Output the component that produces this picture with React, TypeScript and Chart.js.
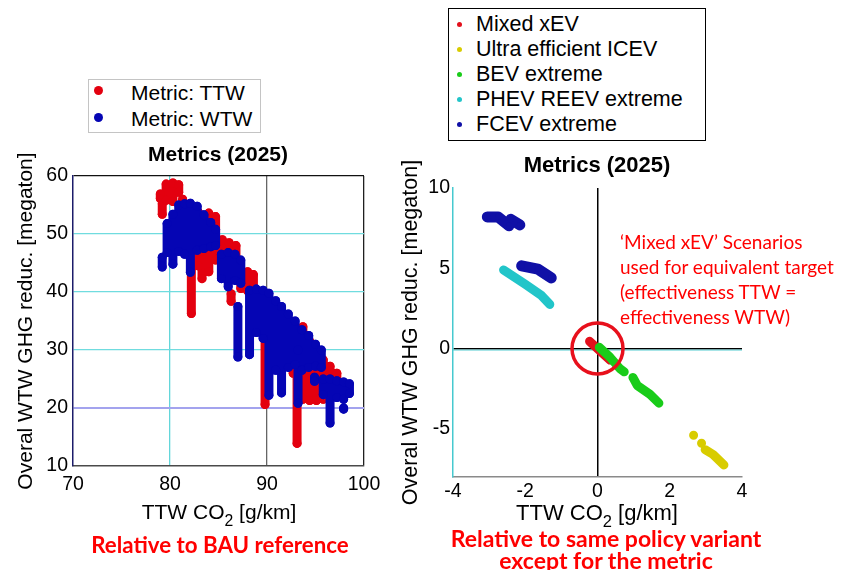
import React, { useEffect, useRef } from "react";
import { Chart, registerables } from "chart.js";
Chart.register(...registerables);

// ---------- Left panel: Metrics (2025), relative to BAU ----------
// Each column is one scenario family: TTW CO2 value and span of WTW reduction
const ttwColX = [79.0, 79.2, 79.6, 80.3, 80.9, 81.3, 82.2, 82.9, 83.3, 84.0, 84.7, 85.4, 86.1, 86.8, 86.3, 87.3, 88.0, 88.6, 89.3, 89.8, 90.5, 91.3, 92.0, 92.7, 93.1, 93.7, 94.4, 95.1, 95.8, 96.5, 97.2];
const ttwColHigh = [56.9, 55.2, 58.6, 58.8, 58.5, 56.0, 53.8, 53.8, 47.0, 53.6, 53.0, 49.0, 48.5, 48.0, 39.7, 43.5, 43.5, 43.0, 38.5, 37.5, 38.0, 36.5, 35.5, 34.5, 33.0, 34.0, 31.5, 29.0, 28.3, 27.2, 26.0];
const ttwColLow = [56.1, 53.4, 55.8, 55.6, 57.2, 53.0, 36.3, 44.5, 42.3, 43.5, 45.5, 46.2, 46.3, 45.5, 38.4, 40.6, 40.2, 39.5, 36.5, 20.6, 28.5, 29.5, 28.5, 26.0, 13.9, 21.5, 21.3, 21.3, 21.5, 22.3, 23.8];

const wtwColX = [79.2, 79.7, 80.3, 80.9, 81.5, 82.1, 82.8, 83.5, 84.2, 84.7, 85.3, 86.0, 86.7, 87.3, 87.0, 88.2, 88.9, 89.6, 90.2, 90.9, 91.5, 92.2, 92.9, 93.2, 93.6, 94.3, 95.0, 95.6, 94.9, 95.8, 96.5, 97.2, 97.9, 98.5, 97.9];
const wtwColHigh = [46.0, 51.8, 53.4, 55.0, 55.2, 55.3, 54.8, 53.3, 52.0, 50.8, 46.5, 46.8, 46.5, 45.5, 37.5, 40.3, 40.5, 40.3, 39.8, 38.5, 37.5, 36.2, 35.0, 30.0, 33.5, 32.5, 31.0, 30.0, 25.3, 25.0, 25.0, 24.7, 24.5, 24.2, 20.0];
const wtwColLow = [44.3, 46.8, 44.8, 47.0, 46.5, 43.4, 47.2, 47.5, 47.8, 48.0, 42.3, 40.9, 42.0, 41.5, 28.8, 29.2, 33.0, 32.0, 22.2, 26.5, 22.6, 27.0, 27.5, 20.8, 26.5, 27.0, 27.2, 27.0, 24.6, 22.3, 17.4, 21.8, 21.5, 22.5, 19.8];

const leftXTicks = [70, 80, 90, 100];
const leftYTicks = [10, 20, 30, 40, 50, 60];

// ---------- Right panel: relative to same policy variant ----------
const mixedX = [-0.22, 0.35];
const mixedY = [0.45, -0.72];
const iceX = [2.66, null, 2.88, null, 2.98, 3.2, 3.5];
const iceY = [-5.4, null, -5.9, null, -6.3, -6.6, -7.25];
const bevX = [0.05, 0.35, 0.62, 0.74, null, 0.98, 1.1, 1.45, 1.7];
const bevY = [0.08, -0.55, -1.25, -1.45, null, -1.8, -2.3, -2.85, -3.4];
const phevX = [-2.6, -2.0, -1.55, -1.32];
const phevY = [4.9, 4.0, 3.3, 2.75];
const fcevX = [-3.05, -2.75, -2.45, null, -2.4, -2.15, null, -2.1, -1.65, -1.28];
const fcevY = [8.2, 8.2, 7.65, null, 8.05, 7.7, null, 5.15, 4.95, 4.4];

const rightXTicks = [-4, -2, 0, 2, 4];
const rightYTicks = [-5, 0, 5, 10];
const circleCenter = [0, 0];

const FONT = "'Liberation Sans', Arial, Helvetica, sans-serif";
const CAL = "Lato, 'Open Sans', sans-serif";

type Pt = { x: number | null; y: number | null };

function columnsToData(xs: number[], hi: number[], lo: number[]): Pt[] {
  const out: Pt[] = [];
  xs.forEach((x, i) => {
    out.push({ x, y: hi[i] }, { x, y: lo[i] }, { x: null, y: null });
  });
  return out;
}
function polyToData(xs: (number | null)[], ys: (number | null)[]): Pt[] {
  return xs.map((x, i) => ({ x, y: ys[i] }));
}

function ds(label: string, data: Pt[], color: string, order: number, bw: number, pr: number) {
  return {
    label,
    data,
    showLine: true,
    spanGaps: false,
    borderColor: color,
    backgroundColor: color,
    pointBackgroundColor: color,
    pointBorderWidth: 0,
    pointRadius: pr,
    pointHoverRadius: pr,
    borderWidth: bw,
    borderCapStyle: "round",
    borderJoinStyle: "round",
    tension: 0,
    order,
  };
}

function LeftChart() {
  const ref = useRef<HTMLCanvasElement>(null);
  useEffect(() => {
    if (!ref.current) return;
    const tickFont = { family: FONT, size: 19.5 };
    const chart = new Chart(ref.current, {
      type: "scatter",
      data: {
        datasets: [
          ds("Metric: TTW", columnsToData(ttwColX, ttwColHigh, ttwColLow), "#e3000f", 2, 9, 4.5),
          ds("Metric: WTW", columnsToData(wtwColX, wtwColHigh, wtwColLow), "#0505b4", 1, 9, 4.5),
        ],
      } as any,
      options: {
        animation: false,
        responsive: false,
        events: [],
        layout: { padding: { left: 0, top: 36, right: 36, bottom: 0 } },
        plugins: { legend: { display: false }, tooltip: { enabled: false }, title: { display: false } },
        scales: {
          x: {
            type: "linear",
            min: 70,
            max: 100,
            afterBuildTicks: (s: any) => {
              s.ticks = leftXTicks.map((v) => ({ value: v }));
            },
            ticks: { font: tickFont, color: "#000", padding: 7, maxRotation: 0, callback: (v: any) => String(v) },
            grid: {
              drawTicks: false,
              color: (c: any) => {
                const v = c.tick && c.tick.value;
                if (v === 80) return "#63d6da";
                if (v === 90) return "#666666";
                if (v === 100) return "#202020";
                return "rgba(0,0,0,0)";
              },
              lineWidth: 1.3,
            },
            border: { display: true, color: "#4a4a4a", width: 1.5 },
            afterFit: (s: any) => {
              s.height = 74;
            },
          },
          y: {
            type: "linear",
            min: 10,
            max: 60,
            afterBuildTicks: (s: any) => {
              s.ticks = leftYTicks.map((v) => ({ value: v }));
            },
            ticks: { font: tickFont, color: "#000", padding: 5, callback: (v: any) => String(v) },
            grid: {
              drawTicks: false,
              color: (c: any) => {
                const v = c.tick && c.tick.value;
                if (v === 20) return "#a3a3ee";
                if (v === 30 || v === 40 || v === 50) return "#70dcdf";
                if (v === 60) return "#111111";
                return "rgba(0,0,0,0)";
              },
              lineWidth: (c: any) => (c.tick && c.tick.value === 20 ? 2 : 1.3),
            },
            border: { display: true, color: "#1c1c6a", width: 1.5 },
            title: {
              display: true,
              text: "Overal WTW GHG reduc. [megaton]",
              font: { family: FONT, size: 21 },
              color: "#000",
              padding: { top: 14, bottom: 0 },
            },
            afterFit: (s: any) => {
              s.width = 73;
            },
          },
        },
      } as any,
    });
    return () => chart.destroy();
  }, []);
  return (
    <canvas
      ref={ref}
      width={400}
      height={400}
      style={{ position: "absolute", left: 0, top: 140, width: 400, height: 400 }}
    />
  );
}

const circlePlugin = {
  id: "mixedCircle",
  beforeDatasetsDraw(chart: any) {
    const { ctx, scales, chartArea } = chart;
    const y0 = scales.y.getPixelForValue(0);
    ctx.save();
    ctx.strokeStyle = "#5fd0d4";
    ctx.lineWidth = 1;
    ctx.beginPath();
    ctx.moveTo(chartArea.left, y0 + 1.5);
    ctx.lineTo(chartArea.right, y0 + 1.5);
    ctx.stroke();
    ctx.restore();
  },
  afterDatasetsDraw(chart: any) {
    const { ctx, scales } = chart;
    const cx = scales.x.getPixelForValue(circleCenter[0]);
    const cy = scales.y.getPixelForValue(circleCenter[1]);
    ctx.save();
    ctx.strokeStyle = "#e8101c";
    ctx.lineWidth = 3.5;
    ctx.beginPath();
    ctx.arc(cx, cy, 25.5, 0, Math.PI * 2);
    ctx.stroke();
    ctx.restore();
  },
};

function RightChart() {
  const ref = useRef<HTMLCanvasElement>(null);
  useEffect(() => {
    if (!ref.current) return;
    const tickFont = { family: FONT, size: 19.5 };
    const chart = new Chart(ref.current, {
      type: "scatter",
      data: {
        datasets: [
          ds("Mixed xEV", polyToData(mixedX, mixedY), "#e3101c", 5, 9, 3),
          ds("Ultra efficient ICEV", polyToData(iceX, iceY), "#d8cc00", 4, 9, 3),
          ds("BEV extreme", polyToData(bevX, bevY), "#19cc19", 3, 9, 3),
          ds("PHEV REEV extreme", polyToData(phevX, phevY), "#22c5c9", 2, 9, 3),
          ds("FCEV extreme", polyToData(fcevX, fcevY), "#1010a6", 1, 11, 3),
        ],
      } as any,
      options: {
        animation: false,
        responsive: false,
        events: [],
        layout: { padding: { left: 0, top: 48, right: 99, bottom: 0 } },
        plugins: { legend: { display: false }, tooltip: { enabled: false }, title: { display: false } },
        scales: {
          x: {
            type: "linear",
            min: -4,
            max: 4,
            afterBuildTicks: (s: any) => {
              s.ticks = rightXTicks.map((v) => ({ value: v }));
            },
            ticks: { font: tickFont, color: "#000", padding: 3, maxRotation: 0, callback: (v: any) => String(v) },
            grid: {
              drawTicks: false,
              color: (c: any) => (c.tick && c.tick.value === 0 ? "#000000" : "rgba(0,0,0,0)"),
              lineWidth: 1.5,
            },
            border: { display: true, color: "#8a8a8a", width: 1.5 },
            afterFit: (s: any) => {
              s.height = 63;
            },
          },
          y: {
            type: "linear",
            min: -8,
            max: 10,
            afterBuildTicks: (s: any) => {
              s.ticks = rightYTicks.map((v) => ({ value: v }));
            },
            ticks: { font: tickFont, color: "#000", padding: 3, callback: (v: any) => String(v) },
            grid: {
              drawTicks: false,
              color: (c: any) => (c.tick && c.tick.value === 0 ? "#000000" : "rgba(0,0,0,0)"),
              lineWidth: 1.5,
            },
            border: { display: true, color: "#46c9cf", width: 1.5 },
            title: {
              display: true,
              text: "Overal WTW GHG reduc. [megaton]",
              font: { family: FONT, size: 21.5 },
              color: "#000",
              padding: { top: 3, bottom: 0 },
            },
            afterFit: (s: any) => {
              s.width = 58;
            },
          },
        },
      } as any,
      plugins: [circlePlugin],
    });
    return () => chart.destroy();
  }, []);
  return (
    <canvas
      ref={ref}
      width={446}
      height={400}
      style={{ position: "absolute", left: 395, top: 140, width: 446, height: 400 }}
    />
  );
}

function Txt(props: {
  x: number;
  y: number;
  center?: boolean;
  size: number;
  family?: string;
  bold?: boolean;
  color?: string;
  children: React.ReactNode;
}) {
  const { x, y, center, size, family, bold, color, children } = props;
  return (
    <div
      style={{
        position: "absolute",
        left: x,
        top: y,
        transform: center ? "translate(-50%, -50%)" : "translate(0, -50%)",
        fontFamily: family || FONT,
        fontSize: size,
        fontWeight: bold ? 700 : 400,
        color: color || "#000",
        lineHeight: 1,
        whiteSpace: "nowrap",
      }}
    >
      {children}
    </div>
  );
}

function Dot(props: { x: number; y: number; r: number; color: string }) {
  const { x, y, r, color } = props;
  return (
    <div
      style={{
        position: "absolute",
        left: x - r,
        top: y - r,
        width: 2 * r,
        height: 2 * r,
        borderRadius: "50%",
        background: color,
      }}
    />
  );
}

const rightLegend = [
  { label: "Mixed xEV", color: "#e3101c" },
  { label: "Ultra efficient ICEV", color: "#d8cc00" },
  { label: "BEV extreme", color: "#19cc19" },
  { label: "PHEV REEV extreme", color: "#22c5c9" },
  { label: "FCEV extreme", color: "#1010a6" },
];

const annotationLines = [
  "\u2018Mixed xEV\u2019 Scenarios",
  "used for equivalent target",
  "(effectiveness TTW =",
  "effectiveness WTW)",
];

export default function App() {
  const sub = (
    <span style={{ fontSize: "0.75em", verticalAlign: "-0.45em", lineHeight: 0 }}>2</span>
  );
  return (
    <div
      style={{
        position: "absolute",
        left: 0,
        top: 0,
        width: 841,
        height: 570,
        background: "#fff",
        overflow: "hidden",
      }}
    >
      <LeftChart />
      <RightChart />

      {/* Left legend */}
      <div
        style={{
          position: "absolute",
          left: 88,
          top: 79,
          width: 173,
          height: 54,
          border: "1px solid #c4c4c4",
          boxSizing: "border-box",
          background: "#fff",
        }}
      />
      <Dot x={98.5} y={90} r={4.5} color="#e3000f" />
      <Dot x={98.5} y={117} r={4.5} color="#0505b4" />
      <Txt x={131} y={91.5} size={21}>Metric: TTW</Txt>
      <Txt x={131} y={117.5} size={21}>Metric: WTW</Txt>

      {/* Left titles */}
      <Txt x={218} y={153} center size={21} bold>Metrics (2025)</Txt>
      <Txt x={219} y={511} center size={21}>TTW CO{sub} [g/km]</Txt>
      <Txt x={220} y={545} center size={22.3} bold family={CAL} color="#ff0000">
        Relative to BAU reference
      </Txt>

      {/* Right legend */}
      <div
        style={{
          position: "absolute",
          left: 448,
          top: 8,
          width: 258,
          height: 133,
          border: "1px solid #000",
          boxSizing: "border-box",
          background: "#fff",
        }}
      />
      {rightLegend.map((l, i) => (
        <React.Fragment key={l.label}>
          <Dot x={459.5} y={24.5 + i * 25} r={2.5} color={l.color} />
          <Txt x={476} y={25 + i * 25} size={21.5}>{l.label}</Txt>
        </React.Fragment>
      ))}

      {/* Right titles */}
      <Txt x={597} y={165} center size={22} bold>Metrics (2025)</Txt>
      <Txt x={597} y={513} center size={22}>TTW CO{sub} [g/km]</Txt>
      <Txt x={606} y={538} center size={23} bold family={CAL} color="#ff0000">
        Relative to same policy variant
      </Txt>
      <Txt x={606} y={560} center size={23} bold family={CAL} color="#ff0000">
        except for the metric
      </Txt>

      {annotationLines.map((t, i) => (
        <Txt key={t} x={620} y={241 + i * 25} size={19} family={CAL} color="#ff0000">
          {t}
        </Txt>
      ))}
    </div>
  );
}
